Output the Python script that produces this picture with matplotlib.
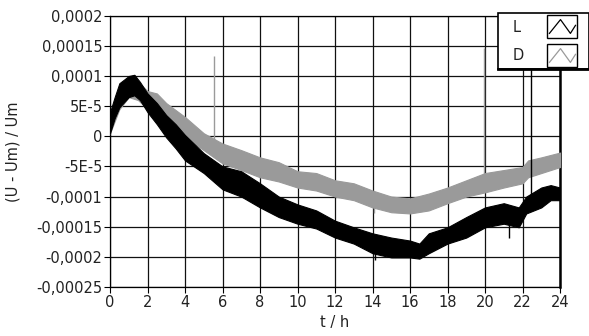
import matplotlib
matplotlib.use("Agg")
import matplotlib.pyplot as plt
from matplotlib.patches import Rectangle
from matplotlib.lines import Line2D
import numpy as np

# ---- data (values in units of 1e-5) ----
L_t = [0, 0.25, 0.5, 1.0, 1.3, 1.6, 2, 2.5, 3, 3.5, 4, 5, 6, 7, 8, 9, 10, 11, 12,
       13, 14, 15, 16, 16.5, 17, 18, 19, 20, 21, 21.8, 22.2, 23, 23.5, 24]
L_hi = [4.0, 6.5, 8.8, 10.0, 10.2, 9.0, 7.1, 5.5, 3.5, 2.0, 0.2, -2.8, -5.0, -5.8,
        -7.8, -10.0, -11.3, -12.3, -14.0, -15.1, -16.1, -16.8, -17.3, -17.8, -16.1,
        -15.1, -13.4, -11.8, -11.1, -11.8, -10.0, -8.5, -8.1, -8.5]
L_lo = [0.5, 3.0, 4.8, 6.5, 6.8, 6.0, 4.0, 2.0, -0.2, -2.0, -4.0, -6.1, -8.8, -10.0,
        -11.8, -13.4, -14.5, -15.3, -16.8, -17.8, -19.4, -20.1, -20.1, -20.3, -19.4,
        -17.8, -16.8, -15.1, -14.5, -15.1, -12.8, -11.8, -10.6, -10.6]

D_t = [0, 0.5, 1.0, 1.5, 2, 2.5, 3, 4, 5, 6, 7, 8, 9, 10, 11, 12, 13, 14, 15, 16,
       17, 18, 19, 20, 21, 22, 22.3, 23, 24]
D_hi = [3.5, 8.0, 9.5, 9.0, 7.5, 7.1, 5.5, 3.2, 0.5, -1.2, -2.3, -3.5, -4.3, -5.8,
        -6.1, -7.3, -7.8, -9.0, -10.0, -10.3, -9.5, -8.5, -7.3, -6.1, -5.6, -5.1,
        -4.0, -3.5, -2.7]
D_lo = [0.5, 4.5, 6.5, 6.0, 4.5, 4.5, 2.2, -0.2, -2.3, -4.5, -5.6, -6.8, -7.5, -8.5,
        -9.0, -10.0, -10.6, -11.8, -12.6, -12.8, -12.3, -11.1, -10.0, -9.3, -8.5,
        -7.8, -6.8, -6.1, -5.1]

# spikes: time, start value, end value (1e-5)
D_spike_t = [5.55, 19.97, 14.1]
D_spike_a = [-2.0, -7.0, -11.0]
D_spike_b = [13.3, 14.6, -12.8]
L_spike_t = [22.45, 21.3, 14.15]
L_spike_a = [-10.5, -13.0, -18.0]
L_spike_b = [16.0, -16.8, -20.6]

x_ticks = list(range(0, 25, 2))
y_ticks = [0.0002, 0.00015, 0.0001, 0.00005, 0, -0.00005, -0.0001, -0.00015,
           -0.0002, -0.00025]
y_tick_labels = ["0,0002", "0,00015", "0,0001", "5E-5", "0", "-5E-5", "-0,0001",
                 "-0,00015", "-0,0002", "-0,00025"]
series_names = ["L", "D"]
series_colors = ["#000000", "#9a9a9a"]

S = 1e-5
txt = "#222222"
FS = 10.5
plt.rcParams['font.family'] = ['DejaVu Sans']

fig = plt.figure(figsize=(5.89, 3.36), dpi=100)
ax = fig.add_axes([110/589, 1-287/336, 450/589, (287-15.7)/336])

# D behind, L on top
ax.fill_between(D_t, np.array(D_lo)*S, np.array(D_hi)*S, color=series_colors[1],
                lw=0.8, edgecolor=series_colors[1], zorder=3)
ax.vlines(D_spike_t, np.array(D_spike_a)*S, np.array(D_spike_b)*S,
          color=series_colors[1], lw=1.0, zorder=3)
ax.fill_between(L_t, np.array(L_lo)*S, np.array(L_hi)*S, color=series_colors[0],
                lw=0.8, edgecolor=series_colors[0], zorder=4)
ax.vlines(L_spike_t, np.array(L_spike_a)*S, np.array(L_spike_b)*S,
          color=series_colors[0], lw=1.0, zorder=4)

ax.set_xlim(0, 24)
ax.set_ylim(-0.00025, 0.0002)
ax.set_xticks(x_ticks)
ax.set_xticklabels([str(v) for v in x_ticks], color=txt, fontsize=FS)
ax.set_yticks(y_ticks)
ax.set_yticklabels(y_tick_labels, color=txt, fontsize=FS)
ax.tick_params(direction='out', length=4, width=0.8, color='#000000', pad=1.5)
ax.grid(True, color='#111111', lw=0.9, zorder=1)
ax.set_axisbelow(True)
for sp in ax.spines.values():
    sp.set_color('#000000')
    sp.set_linewidth(0.9)
ax.spines['right'].set_linewidth(1.8)

ax.set_xlabel("t / h", color=txt, fontsize=FS, labelpad=4)
ax.set_ylabel("(U - Um) / Um", color=txt, fontsize=FS, labelpad=11)

# legend box (figure coordinates)
bx0, by0, bx1, by1 = 498/589, 1-69/336, 1.0, 1-13/336
fig.add_artist(Rectangle((bx0, by0), bx1-bx0, by1-by0, transform=fig.transFigure,
                         facecolor='white', edgecolor='black', lw=1.2, zorder=10))
fig.add_artist(Line2D([bx0, bx1], [by0, by0], transform=fig.transFigure,
                      color='black', lw=2.0, zorder=11))
for i, (name, col) in enumerate(zip(series_names, series_colors)):
    ty = 1 - (28 + 27*i)/336
    fig.text(513/589, ty, name, color=txt, fontsize=FS, va='center', ha='left',
             zorder=12)
    ix0, ix1 = 547/589, 577/589
    iy1 = 1 - (15 + 29*i)/336
    iy0 = 1 - (38 + 29*i)/336
    fig.add_artist(Rectangle((ix0, iy0), ix1-ix0, iy1-iy0, transform=fig.transFigure,
                             facecolor='white', edgecolor='black', lw=1.0, zorder=12))
    fx = [0.08, 0.45, 0.78, 0.95]
    fy = [0.2, 0.8, 0.2, 0.55]
    fig.add_artist(Line2D([ix0 + f*(ix1-ix0) for f in fx],
                          [iy0 + f*(iy1-iy0) for f in fy],
                          transform=fig.transFigure, color=col, lw=0.9, zorder=13))

fig.savefig("out.png", dpi=100)
